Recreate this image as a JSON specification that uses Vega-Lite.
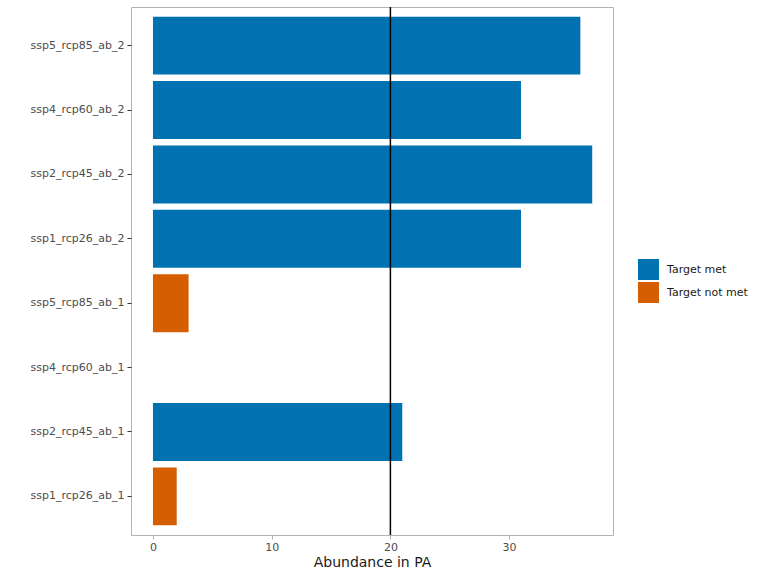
{
  "$schema": "https://vega.github.io/schema/vega-lite/v6.json",
  "width": 482,
  "height": 528,
  "autosize": {"type": "none"},
  "padding": {"left": 131, "top": 7, "right": 155, "bottom": 41},
  "background": "white",
  "config": {
    "view": {"stroke": "#b3b3b3", "strokeWidth": 1},
    "font": "DejaVu Sans"
  },
  "data": {
    "values": [
      {"scenario": "ssp5_rcp85_ab_2", "abundance": 36, "status": "Target met"},
      {"scenario": "ssp4_rcp60_ab_2", "abundance": 31, "status": "Target met"},
      {"scenario": "ssp2_rcp45_ab_2", "abundance": 37, "status": "Target met"},
      {"scenario": "ssp1_rcp26_ab_2", "abundance": 31, "status": "Target met"},
      {"scenario": "ssp5_rcp85_ab_1", "abundance": 3, "status": "Target not met"},
      {"scenario": "ssp4_rcp60_ab_1", "abundance": 0, "status": "Target not met"},
      {"scenario": "ssp2_rcp45_ab_1", "abundance": 21, "status": "Target met"},
      {"scenario": "ssp1_rcp26_ab_1", "abundance": 2, "status": "Target not met"}
    ]
  },
  "layer": [
    {
      "mark": {"type": "bar"},
      "encoding": {
        "y": {
          "field": "scenario",
          "type": "nominal",
          "sort": ["ssp5_rcp85_ab_2", "ssp4_rcp60_ab_2", "ssp2_rcp45_ab_2", "ssp1_rcp26_ab_2", "ssp5_rcp85_ab_1", "ssp4_rcp60_ab_1", "ssp2_rcp45_ab_1", "ssp1_rcp26_ab_1"],
          "scale": {"paddingInner": 0.1, "paddingOuter": 0.15},
          "axis": {
            "title": null,
            "domain": false,
            "grid": false,
            "tickColor": "#333333",
            "tickSize": 4,
            "labelColor": "#4d4d4d",
            "labelFontSize": 11,
            "labelPadding": 3
          }
        },
        "x": {
          "field": "abundance",
          "type": "quantitative",
          "scale": {"domain": [-1.85, 38.75], "nice": false, "zero": false},
          "axis": {
            "title": "Abundance in PA",
            "values": [0, 10, 20, 30],
            "domain": false,
            "grid": false,
            "tickColor": "#b3b3b3",
            "tickSize": 4,
            "labelColor": "#4d4d4d",
            "labelFontSize": 11,
            "labelPadding": 2,
            "titleFontSize": 14,
            "titleFontWeight": "normal",
            "titleColor": "#1a1a1a",
            "titlePadding": 3
          }
        },
        "color": {
          "field": "status",
          "type": "nominal",
          "scale": {"domain": ["Target met", "Target not met"], "range": ["#0072B2", "#D55E00"]},
          "legend": {
            "title": null,
            "orient": "none",
            "legendX": 507,
            "legendY": 252,
            "symbolType": "square",
            "symbolSize": 441,
            "symbolStrokeWidth": 0,
            "symbolOpacity": 1,
            "rowPadding": 2,
            "labelOffset": 8,
            "labelFontSize": 11,
            "labelColor": "#1a1a1a"
          }
        }
      }
    },
    {
      "data": {"values": [{"target": 20}]},
      "mark": {"type": "rule", "color": "black", "strokeWidth": 1.5},
      "encoding": {"x": {"field": "target", "type": "quantitative"}}
    }
  ]
}
